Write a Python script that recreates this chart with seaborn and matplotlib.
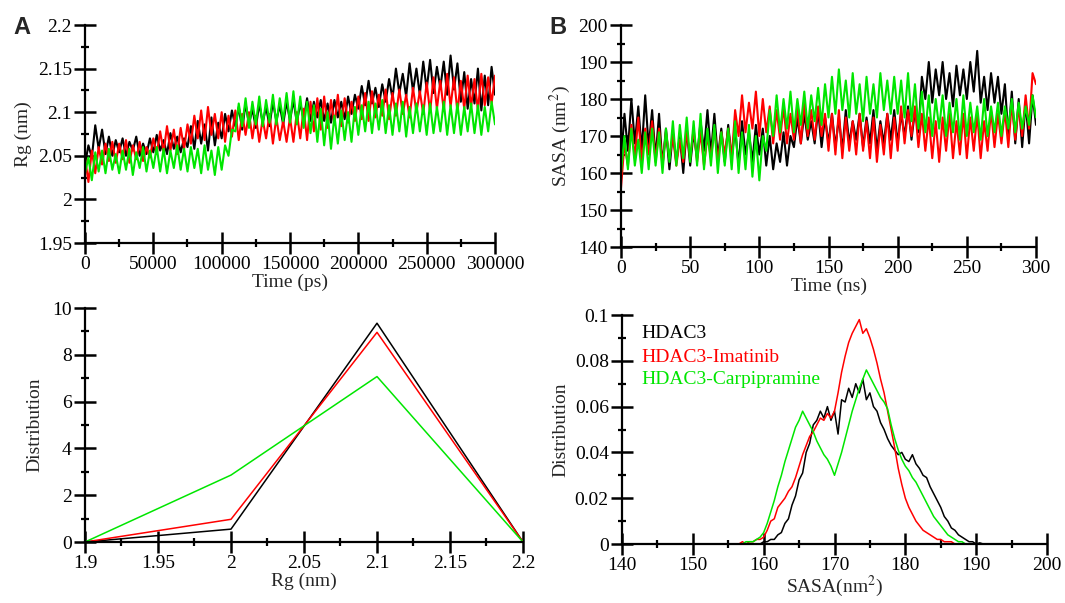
import numpy as np
import pandas as pd
import matplotlib
matplotlib.use("Agg")
import matplotlib.pyplot as plt
import seaborn as sns
from matplotlib.ticker import MultipleLocator, FuncFormatter

# series names and colours
names = ["HDAC3", "HDAC3-Imatinib", "HDAC3-Carpipramine"]
colors = {"HDAC3": "black", "HDAC3-Imatinib": "#ff0000", "HDAC3-Carpipramine": "#00e600"}

# Rg time series (ps), every 2500 ps
# (values swing between the upper and lower edge of each noisy trace)
time_ps = np.arange(0, 300001, 2500)
rg_hdac3 = [
    2.040, 2.062, 2.048, 2.085, 2.058, 2.080, 2.052, 2.072, 2.050, 2.068,
    2.054, 2.070, 2.050, 2.066, 2.056, 2.072, 2.050, 2.064, 2.052, 2.070,
    2.054, 2.074, 2.056, 2.068, 2.052, 2.076, 2.058, 2.072, 2.054, 2.070,
    2.060, 2.084, 2.058, 2.090, 2.064, 2.086, 2.056, 2.094, 2.062, 2.088,
    2.070, 2.098, 2.078, 2.102, 2.084, 2.106, 2.080, 2.110, 2.086, 2.104,
    2.082, 2.110, 2.088, 2.106, 2.084, 2.112, 2.090, 2.108, 2.086, 2.112,
    2.090, 2.114, 2.088, 2.110, 2.092, 2.116, 2.090, 2.112, 2.094, 2.114,
    2.090, 2.110, 2.088, 2.114, 2.094, 2.112, 2.092, 2.118, 2.098, 2.120,
    2.104, 2.130, 2.108, 2.136, 2.110, 2.128, 2.106, 2.132, 2.112, 2.138,
    2.116, 2.150, 2.122, 2.144, 2.118, 2.156, 2.124, 2.150, 2.120, 2.158,
    2.126, 2.160, 2.122, 2.152, 2.128, 2.158, 2.120, 2.165, 2.126, 2.156,
    2.112, 2.146, 2.104, 2.138, 2.110, 2.150, 2.102, 2.142, 2.108, 2.152,
    2.120]
rg_imatinib = [
    2.048, 2.020, 2.056, 2.030, 2.060, 2.040, 2.064, 2.044, 2.066, 2.042,
    2.064, 2.046, 2.068, 2.042, 2.062, 2.046, 2.066, 2.044, 2.060, 2.048,
    2.070, 2.052, 2.078, 2.054, 2.084, 2.056, 2.080, 2.052, 2.082, 2.058,
    2.086, 2.064, 2.096, 2.070, 2.102, 2.068, 2.106, 2.074, 2.098, 2.070,
    2.100, 2.066, 2.096, 2.072, 2.102, 2.068, 2.098, 2.074, 2.100, 2.070,
    2.096, 2.066, 2.092, 2.070, 2.098, 2.064, 2.094, 2.068, 2.090, 2.066,
    2.094, 2.066, 2.100, 2.070, 2.104, 2.068, 2.112, 2.078, 2.116, 2.080,
    2.118, 2.082, 2.114, 2.086, 2.120, 2.084, 2.116, 2.088, 2.112, 2.090,
    2.118, 2.092, 2.122, 2.090, 2.124, 2.094, 2.120, 2.096, 2.126, 2.092,
    2.122, 2.096, 2.126, 2.098, 2.120, 2.094, 2.128, 2.100, 2.124, 2.098,
    2.134, 2.100, 2.140, 2.104, 2.136, 2.102, 2.144, 2.106, 2.140, 2.100,
    2.136, 2.104, 2.142, 2.106, 2.138, 2.102, 2.144, 2.108, 2.140, 2.110,
    2.142]
rg_carpipramine = [
    2.030, 2.048, 2.022, 2.054, 2.032, 2.056, 2.030, 2.058, 2.034, 2.052,
    2.030, 2.056, 2.034, 2.058, 2.028, 2.054, 2.036, 2.060, 2.032, 2.056,
    2.036, 2.060, 2.032, 2.058, 2.030, 2.056, 2.036, 2.062, 2.034, 2.058,
    2.032, 2.060, 2.036, 2.058, 2.030, 2.062, 2.034, 2.056, 2.028, 2.060,
    2.034, 2.062, 2.050, 2.080, 2.078, 2.110, 2.084, 2.116, 2.082, 2.112,
    2.086, 2.118, 2.084, 2.114, 2.088, 2.120, 2.086, 2.116, 2.090, 2.122,
    2.088, 2.124, 2.086, 2.118, 2.082, 2.112, 2.076, 2.108, 2.066, 2.104,
    2.062, 2.100, 2.058, 2.096, 2.064, 2.102, 2.068, 2.100, 2.066, 2.106,
    2.074, 2.108, 2.078, 2.112, 2.076, 2.110, 2.080, 2.114, 2.076, 2.108,
    2.074, 2.110, 2.078, 2.112, 2.072, 2.106, 2.076, 2.110, 2.078, 2.108,
    2.074, 2.110, 2.076, 2.106, 2.078, 2.112, 2.074, 2.108, 2.076, 2.110,
    2.074, 2.106, 2.078, 2.110, 2.076, 2.108, 2.074, 2.106, 2.078, 2.112,
    2.086]

# SASA time series (ns), every 2.5 ns
time_ns = np.arange(0, 300.01, 2.5)
sasa_hdac3 = [
    163, 176, 166, 180, 168, 178, 166, 181, 167, 177,
    164, 176, 162, 172, 161, 171, 163, 170, 160, 172,
    162, 171, 164, 174, 166, 177, 165, 176, 164, 172,
    163, 173, 164, 172, 162, 174, 165, 171, 163, 173,
    165, 172, 162, 170, 161, 168, 163, 171, 162, 170,
    167, 175, 168, 176, 169, 174, 168, 177, 167, 175,
    168, 176, 167, 175, 166, 177, 168, 174, 169, 176,
    167, 175, 168, 177, 166, 174, 168, 176, 169, 177,
    168, 176, 170, 178, 169, 177, 171, 186, 180, 190,
    179, 188, 181, 190, 180, 187, 178, 189, 181, 188,
    180, 190, 182, 193, 179, 186, 177, 187, 179, 186,
    176, 184, 170, 182, 168, 180, 167, 179, 168, 181,
    173]
sasa_imatinib = [
    156, 168, 162, 173, 164, 175, 163, 172, 165, 174,
    163, 172, 162, 171, 164, 170, 162, 169, 163, 171,
    164, 172, 163, 171, 162, 170, 164, 172, 163, 171,
    165, 172, 164, 177, 170, 181, 171, 179, 172, 182,
    170, 180, 171, 178, 168, 177, 169, 178, 168, 176,
    169, 178, 168, 179, 170, 177, 169, 178, 170, 176,
    166, 176, 165, 177, 164, 175, 166, 174, 165, 176,
    166, 174, 164, 175, 163, 173, 165, 176, 164, 175,
    166, 178, 168, 177, 170, 178, 167, 176, 166, 175,
    164, 174, 163, 175, 166, 176, 164, 174, 165, 176,
    164, 175, 166, 176, 164, 174, 166, 177, 167, 176,
    168, 177, 167, 179, 169, 178, 170, 181, 172, 187,
    184]
sasa_carpipramine = [
    160, 170, 161, 172, 162, 169, 160, 171, 161, 172,
    162, 171, 160, 172, 163, 174, 162, 173, 164, 175,
    163, 174, 162, 176, 161, 172, 162, 173, 160, 171,
    162, 172, 161, 174, 160, 171, 161, 173, 159, 170,
    158, 170, 166, 177, 170, 181, 171, 180, 172, 182,
    171, 180, 173, 182, 172, 181, 174, 183, 173, 184,
    175, 186, 176, 188, 177, 185, 175, 187, 176, 184,
    174, 186, 176, 184, 175, 187, 177, 185, 176, 186,
    176, 185, 175, 187, 174, 184, 172, 182, 171, 181,
    170, 180, 172, 181, 170, 179, 171, 180, 169, 181,
    170, 179, 171, 178, 169, 180, 170, 178, 171, 179,
    170, 178, 172, 180, 171, 179, 172, 178, 173, 181,
    175]

# Rg distribution
rg_bins = [1.9, 2.0, 2.1, 2.2]
rgd_hdac3 = [0, 0.55, 9.35, 0]
rgd_imatinib = [0, 0.97, 8.96, 0]
rgd_carpipramine = [0, 2.86, 7.07, 0]

# SASA distribution
sasa_bins = np.arange(155, 192.01, 0.5)
sd_hdac3 = [0, 0, 0, 0, 0, 0, 0, 0, 0, 0,
            0.001, 0.001, 0.002, 0.002, 0.004, 0.005, 0.009, 0.011, 0.017, 0.021,
            0.028, 0.031, 0.040, 0.044, 0.052, 0.054, 0.058, 0.055, 0.060, 0.054,
            0.058, 0.048, 0.063, 0.062, 0.068, 0.064, 0.070, 0.066, 0.072, 0.063,
            0.066, 0.060, 0.058, 0.053, 0.050, 0.046, 0.043, 0.041, 0.039, 0.040,
            0.037, 0.036, 0.039, 0.035, 0.033, 0.030, 0.029, 0.025, 0.022, 0.019,
            0.016, 0.012, 0.010, 0.007, 0.006, 0.004, 0.003, 0.002, 0.001, 0.001,
            0, 0.0005, 0, 0, 0]
sd_imatinib = [0, 0, 0, 0, 0.001, 0, 0.001, 0.001, 0.002, 0.002,
               0.003, 0.006, 0.010, 0.011, 0.016, 0.018, 0.020, 0.023, 0.025, 0.029,
               0.034, 0.039, 0.043, 0.047, 0.049, 0.052, 0.055, 0.054, 0.057, 0.055,
               0.058, 0.066, 0.075, 0.082, 0.088, 0.092, 0.095, 0.098, 0.092, 0.094,
               0.090, 0.085, 0.079, 0.072, 0.066, 0.058, 0.050, 0.042, 0.033, 0.026,
               0.020, 0.016, 0.013, 0.010, 0.008, 0.006, 0.005, 0.004, 0.003, 0.002,
               0.002, 0.001, 0.001, 0.001, 0, 0, 0, 0, 0, 0,
               0, 0, 0, 0, 0]
sd_carpipramine = [0, 0, 0, 0, 0, 0.001, 0.001, 0.001, 0.002, 0.003,
                   0.005, 0.009, 0.014, 0.019, 0.025, 0.030, 0.036, 0.041, 0.046, 0.051,
                   0.054, 0.058, 0.055, 0.052, 0.049, 0.045, 0.042, 0.039, 0.037, 0.034,
                   0.030, 0.035, 0.040, 0.046, 0.052, 0.058, 0.063, 0.068, 0.072, 0.076,
                   0.073, 0.070, 0.067, 0.064, 0.062, 0.059, 0.052, 0.046, 0.041, 0.037,
                   0.034, 0.032, 0.029, 0.027, 0.024, 0.021, 0.018, 0.015, 0.012, 0.010,
                   0.008, 0.006, 0.004, 0.003, 0.002, 0.001, 0.001, 0, 0, 0,
                   0, 0, 0, 0, 0]


def long_df(x, series):
    frames = [pd.DataFrame({"x": x, "y": s, "system": n}) for n, s in zip(names, series)]
    return pd.concat(frames, ignore_index=True)


def style_axis(ax, xlim, ylim, xmaj, xmin, ymaj, ymin):
    ax.set_xlim(*xlim)
    ax.set_ylim(*ylim)
    for s in ["top", "right"]:
        ax.spines[s].set_visible(False)
    for s in ["left", "bottom"]:
        ax.spines[s].set_linewidth(1.6)
        ax.spines[s].set_color("black")
    ax.xaxis.set_major_locator(MultipleLocator(xmaj))
    ax.xaxis.set_minor_locator(MultipleLocator(xmin))
    ax.yaxis.set_major_locator(MultipleLocator(ymaj))
    ax.yaxis.set_minor_locator(MultipleLocator(ymin))
    fmt = FuncFormatter(lambda v, p: f"{v:g}")
    ax.xaxis.set_major_formatter(fmt)
    ax.yaxis.set_major_formatter(fmt)
    ax.tick_params(which="major", direction="inout", length=16, width=1.8,
                   labelsize=14, pad=1.5, color="black", labelcolor="black")
    ax.tick_params(which="minor", direction="inout", length=6, width=1.6, color="black")
    ax.set_facecolor("white")


sns.set_theme(style="ticks")
plt.rcParams["font.family"] = ["Liberation Serif", "DejaVu Serif"]
plt.rcParams["mathtext.fontset"] = "stix"

fig = plt.figure(figsize=(10.65, 6.03), dpi=100)
ax_rg = fig.add_axes([0.07981, 0.59701, 0.38498, 0.36153])
ax_sasa = fig.add_axes([0.58310, 0.59038, 0.38967, 0.36816])
ax_rgd = fig.add_axes([0.07981, 0.10116, 0.41127, 0.38806])
ax_sd = fig.add_axes([0.58404, 0.09784, 0.39906, 0.37977])

# top left: Rg vs time
sns.lineplot(data=long_df(time_ps, [rg_hdac3, rg_imatinib, rg_carpipramine]),
             x="x", y="y", hue="system", hue_order=names, palette=colors,
             lw=1.5, sort=False, legend=False, ax=ax_rg)
style_axis(ax_rg, (0, 300000), (1.95, 2.2), 50000, 25000, 0.05, 0.025)
ax_rg.set_xlabel("Time (ps)", fontsize=14, labelpad=0)
ax_rg.set_ylabel("Rg (nm)", fontsize=14, labelpad=4)

# top right: SASA vs time
sns.lineplot(data=long_df(time_ns, [sasa_hdac3, sasa_imatinib, sasa_carpipramine]),
             x="x", y="y", hue="system", hue_order=names, palette=colors,
             lw=1.5, sort=False, legend=False, ax=ax_sasa)
style_axis(ax_sasa, (0, 300), (140, 200), 50, 25, 10, 5)
ax_sasa.set_xlabel("Time (ns)", fontsize=14, labelpad=0)
ax_sasa.set_ylabel("SASA (nm$^2$)", fontsize=14, labelpad=4)

# bottom left: Rg distribution
sns.lineplot(data=long_df(rg_bins, [rgd_hdac3, rgd_imatinib, rgd_carpipramine]),
             x="x", y="y", hue="system", hue_order=names, palette=colors,
             lw=1.1, sort=False, legend=False, ax=ax_rgd)
style_axis(ax_rgd, (1.9, 2.2), (0, 10), 0.05, 0.025, 2, 1)
ax_rgd.set_xlabel("Rg (nm)", fontsize=14, labelpad=0)
ax_rgd.set_ylabel("Distribution", fontsize=14, labelpad=6)

# bottom right: SASA distribution
sns.lineplot(data=long_df(sasa_bins, [sd_hdac3, sd_imatinib, sd_carpipramine]),
             x="x", y="y", hue="system", hue_order=names, palette=colors,
             lw=1.1, sort=False, legend=False, ax=ax_sd)
style_axis(ax_sd, (140, 200), (0, 0.1), 10, 5, 0.02, 0.01)
ax_sd.set_xlabel("SASA(nm$^2$)", fontsize=14, labelpad=0)
ax_sd.set_ylabel("Distribution", fontsize=14, labelpad=4)

for n, yy in zip(names, [0.92, 0.8135, 0.719]):
    ax_sd.text(0.046, yy, n, transform=ax_sd.transAxes, color=colors[n],
               fontsize=14, va="center", ha="left")

fig.text(22 / 1065, 1 - 28 / 603, "A", fontsize=17, fontweight="bold",
         family="Liberation Sans", ha="center", va="center")
fig.text(558 / 1065, 1 - 28 / 603, "B", fontsize=17, fontweight="bold",
         family="Liberation Sans", ha="center", va="center")

fig.savefig("out.png", dpi=100, facecolor="white")
